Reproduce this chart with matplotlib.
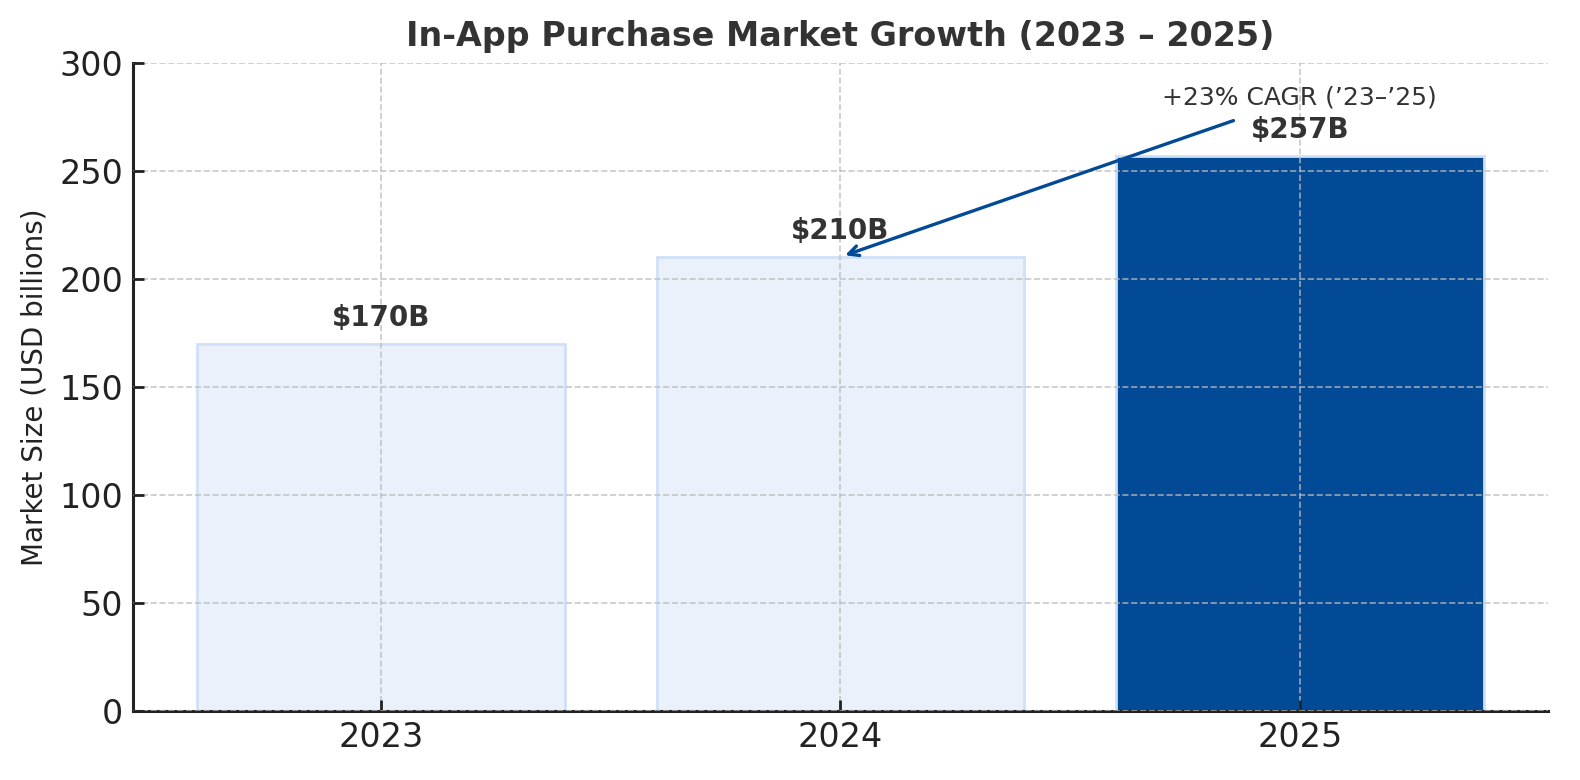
import matplotlib.pyplot as plt

# data
years = ['2023', '2024', '2025']
market_size = [170, 210, 257]
bar_labels = ['$170B', '$210B', '$257B']
cagr_text = "+23% CAGR (\u201923\u2013\u201925)"

light_fill = '#EAF1FB'
light_edge = '#CFE0F7'
dark_fill = '#034A96'
text_col = '#333333'

fig = plt.figure(figsize=(7.9, 3.9), dpi=200)
ax = fig.add_axes([0.0842, 0.0885, 0.8955, 0.8307])

colors = [light_fill, light_fill, dark_fill]
ax.bar(years, market_size, width=0.8, color=colors, edgecolor=light_edge, linewidth=1.0)

for i, (v, lab) in enumerate(zip(market_size, bar_labels)):
    ax.text(i, v + 12, lab, ha='center', va='center', fontsize=10,
            fontweight='bold', color=text_col)

# CAGR arrow from the 2025 label back to the 2024 bar
ax.annotate(cagr_text, xy=(1.01, 211), xytext=(2, 284),
            ha='center', va='center', fontsize=9, color=text_col,
            arrowprops=dict(arrowstyle='->', color=dark_fill, lw=1.2,
                            shrinkA=6, shrinkB=0))

ax.set_ylim(0, 300)
ax.set_yticks(range(0, 301, 50))
ax.set_title('In-App Purchase Market Growth (2023 \u2013 2025)', fontsize=12,
             fontweight='bold', color=text_col, pad=6)
ax.set_ylabel('Market Size (USD billions)', fontsize=10, color='#222222')
ax.tick_params(axis='both', direction='in', labelsize=12, length=4,
               width=1.0, colors='#222222', labelcolor='#222222')
ax.grid(True, linestyle='--', color='#BBBBBB', linewidth=0.6, alpha=0.8)
ax.set_axisbelow(False)
for s in ['top', 'right']:
    ax.spines[s].set_visible(False)
for s in ['left', 'bottom']:
    ax.spines[s].set_linewidth(1.1)
    ax.spines[s].set_color('#222222')

fig.savefig('out.png', dpi=200)
